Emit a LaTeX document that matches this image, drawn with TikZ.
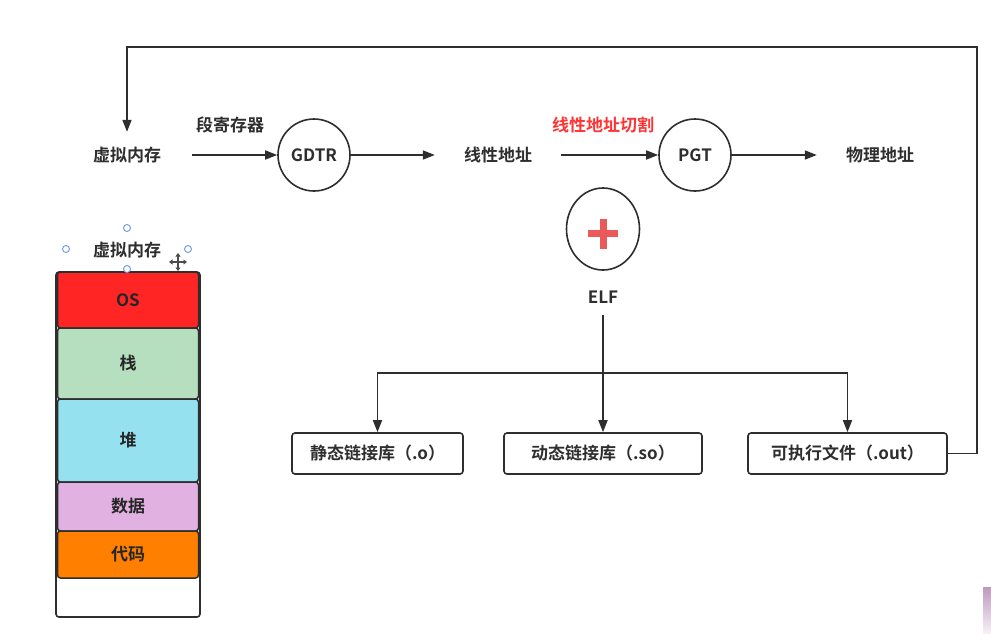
\documentclass[tikz,border=0pt]{standalone}
\usepackage{fontspec}
\setmainfont{Noto Sans CJK SC}[BoldFont={* Bold}]
\usetikzlibrary{arrows.meta,shapes.geometric}
\definecolor{ink}{HTML}{2E2E2E}
\definecolor{osred}{HTML}{FF2525}
\definecolor{stackgreen}{HTML}{B6DFC0}
\definecolor{heapcyan}{HTML}{96E1EF}
\definecolor{datapurple}{HTML}{E1B1E2}
\definecolor{codeorange}{HTML}{FF8000}
\definecolor{plusred}{HTML}{EB5A5A}
\definecolor{labelred}{HTML}{FF3333}
\definecolor{handleblue}{HTML}{6A98E6}
\tikzset{
  txt/.style={font=\fontsize{17}{20}\selectfont\bfseries, text=ink, inner sep=0pt},
  lbl/.style={txt, minimum width=126, minimum height=46},
  ring/.style={circle, draw=ink, line width=1.6pt, minimum size=72, inner sep=0pt, txt},
  arr/.style={draw=ink, line width=1.6pt, -{Triangle[length=12pt,width=9pt]}},
  libbox/.style={draw=ink, line width=1.6pt, rounded corners=3pt, minimum height=41, inner sep=0pt, txt},
  seg/.style={draw=ink, line width=1.5pt, rounded corners=3pt, minimum width=141, inner sep=0pt, txt, text=black!85},
  handle/.style={circle, draw=handleblue, fill=white, line width=0.9pt, minimum size=7, inner sep=0pt},
}
\begin{document}
\begin{tikzpicture}[x=1pt,y=-1pt]
\useasboundingbox[fill=white] (0,0) rectangle (991,633);

% address translation chain
\node[lbl, minimum width=130] (vm) at (127,155) {虚拟内存};
\node[txt] (segreg) at (230,125) {段寄存器};
\node[ring] (gdtr) at (314,155) {GDTR};
\node[lbl] (lin) at (498,155) {线性地址};
\node[txt, text=labelred] (cut) at (603,125) {线性地址切割};
\node[ring] (pgt) at (695,155) {PGT};
\node[lbl] (phys) at (880,155) {物理地址};

\draw[arr] (vm) -- (gdtr);
\draw[arr] (gdtr) -- (lin);
\draw[arr] (lin) -- (pgt);
\draw[arr] (pgt) -- (phys);

% ELF and its outputs
\node[ellipse, draw=ink, line width=1.6pt, minimum width=73, minimum height=82, inner sep=0pt] (elf) at (603,229) {};
\fill[plusred] (588,230) rectangle (618,237);
\fill[plusred] (599.5,218.5) rectangle (606.5,248.5);
\node[txt, minimum height=36] (elflbl) at (603,297) {ELF};

\node[libbox, minimum width=171] (static) at (377.5,453.5) {静态链接库（.o）};
\node[libbox, minimum width=198] (dyn) at (603,453.5) {动态链接库（.so）};
\node[libbox, minimum width=199] (exe) at (847.5,453.5) {可执行文件（.out）};

\coordinate (split) at (603,373);
\draw[arr] (elflbl) -- (dyn);
\draw[arr] (split) -| (static);
\draw[arr] (split) -| (exe);

% feedback loop from the executable back to virtual memory
\coordinate (loopR) at (977,47);
\coordinate (loopL) at (vm.north |- loopR);
\draw[arr] (exe.east) -| (loopR) -- (loopL) -- (vm.north);

% virtual memory layout
\node[draw=ink, line width=1.6pt, rounded corners=3pt, fill=white, minimum width=144, minimum height=345, inner sep=0pt] (mem) at (128,444.5) {};
\node[seg, fill=osred, minimum height=56] (os) at (128,300) {OS};
\node[seg, fill=stackgreen, minimum height=71] (stack) at (128,363.5) {栈};
\node[seg, fill=heapcyan, minimum height=83] (heap) at (128,440.5) {堆};
\node[seg, fill=datapurple, minimum height=49] (data) at (128,506.5) {数据};
\node[seg, fill=codeorange, minimum height=47] (code) at (128,554.5) {代码};
\node[txt] (memlbl) at (127,250) {虚拟内存};

% selection handles around the label
\node[handle] (hn) at (127,228) {};
\node[handle] (hw) at (66,249) {};
\node[handle] (he) at (188,249) {};
\node[handle] (hs) at (127,269) {};

% move cursor
\begin{scope}[{Triangle[length=3.5pt,width=5pt]}-{Triangle[length=3.5pt,width=5pt]}]
  \draw[white, line width=3pt] (169,262) -- (187,262);
  \draw[white, line width=3pt] (178,253) -- (178,271);
  \draw[black!70, line width=1.2pt] (169,262) -- (187,262);
  \draw[black!70, line width=1.2pt] (178,253) -- (178,271);
\end{scope}

% corner fragment
\shade[top color=black!30!violet!40, bottom color=violet!6] (983,587) rectangle (991,633);
\end{tikzpicture}
\end{document}
